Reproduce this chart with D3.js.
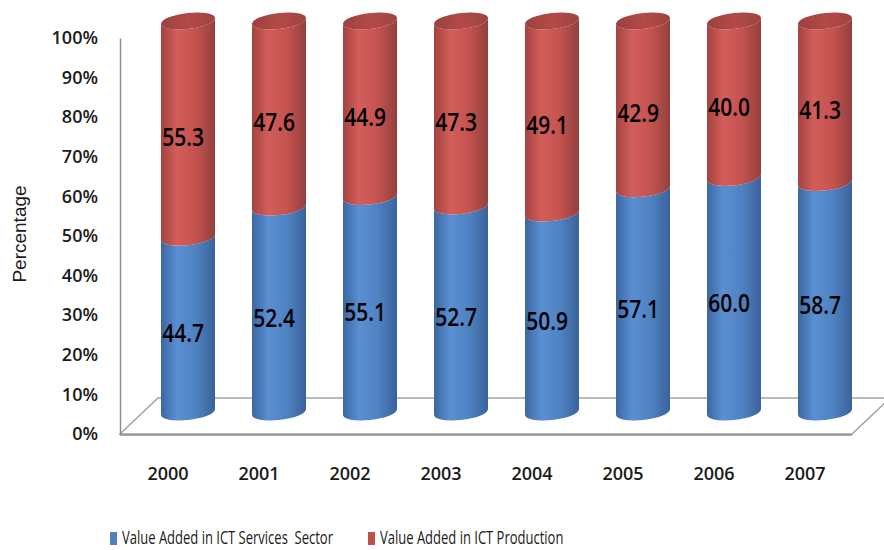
<!DOCTYPE html>
<html lang="en">
<head>
  <title>ICT value added</title>
  <meta charset="utf-8"/>
  <script src="https://d3js.org/d3.v7.min.js"></script>
  <style>
    body { margin: 0; background: #fff; }
    .tick text { font-family: "Open Sans", sans-serif; font-size: 18px; font-weight: 600; fill: #1a1a1a; }
    .year { font-family: "Open Sans", sans-serif; font-size: 18px; font-weight: 600; fill: #1a1a1a; }
    .val { font-family: "Open Sans", sans-serif; font-size: 21px; font-weight: 600; fill: #000; }
    .legend { font-family: "Open Sans", sans-serif; font-size: 13px; fill: #1a1a1a; white-space: pre; }
  </style>
</head>
<body>
<svg id="chart" width="884" height="550"></svg>
<script>
  // data
  const years = ["2000", "2001", "2002", "2003", "2004", "2005", "2006", "2007"];
  const services = [44.7, 52.4, 55.1, 52.7, 50.9, 57.1, 60.0, 58.7];
  const production = [55.3, 47.6, 44.9, 47.3, 49.1, 42.9, 40.0, 41.3];
  const yTicks = [0, 10, 20, 30, 40, 50, 60, 70, 80, 90, 100];
  const seriesNames = ["Value Added in ICT Services  Sector", "Value Added in ICT Production"];

  const svg = d3.select("#chart");

  // front plane scale (axis labels) and cylinder scale (3d depth)
  const yAxis = d3.scaleLinear().domain([0, 100]).range([434, 38]);
  const yCyl = d3.scaleLinear().domain([0, 100]).range([412, 21]);
  const x = d3.scaleBand().domain(years).range([142.5, 870.5]);

  const rx = 27, ry = 8;
  const depthX = 38, depthY = -36;

  // gradients
  const defs = svg.append("defs");
  function grad(id, stops) {
    const g = defs.append("linearGradient").attr("id", id)
            .attr("x1", 0).attr("x2", 1).attr("y1", 0).attr("y2", 0);
    stops.forEach(s => g.append("stop").attr("offset", s[0]).attr("stop-color", s[1]));
  }
  grad("gBlue", [[0, "#3b67a3"], [0.3, "#5a8fd2"], [0.65, "#4f82c1"], [1, "#3a629b"]]);
  grad("gRed", [[0, "#a4423f"], [0.3, "#d25e5a"], [0.65, "#c4524f"], [1, "#93403d"]]);
  grad("gTop", [[0, "#9c413e"], [0.5, "#b24a47"], [1, "#a04441"]]);

  // floor
  const x0 = 120, x1 = 852, yf = yAxis(0);
  svg.append("path")
          .attr("d", `M${x0},${yf} L${x1},${yf} L${x1 + depthX},${yf + depthY} L${x0 + depthX},${yf + depthY} Z`)
          .attr("fill", "#fff")
          .attr("stroke", "#a3a3a3")
          .attr("stroke-width", 1.5);
  svg.append("line")
          .attr("x1", x0).attr("x2", x1).attr("y1", yf + 1).attr("y2", yf + 1)
          .attr("stroke", "#8c8c8c").attr("stroke-width", 1.5);

  // y axis
  const axis = svg.append("g")
          .attr("transform", `translate(${x0},0)`)
          .call(d3.axisLeft(yAxis).tickValues(yTicks).tickSize(0).tickPadding(22)
                  .tickFormat(d => d + "%"));
  axis.select(".domain").attr("stroke", "#8c8c8c").attr("stroke-width", 1.5);

  svg.append("text")
          .attr("transform", "translate(26,234) rotate(-90)")
          .attr("text-anchor", "middle")
          .style("font-family", "'Liberation Sans', Arial, sans-serif")
          .style("font-size", "19px")
          .attr("fill", "#1a1a1a")
          .text("Percentage");

  // cylinders
  function bodyPath(cx, v0, v1) {
    const yb = yCyl(v0), yt = yCyl(v1);
    return `M${cx - rx},${yt} L${cx - rx},${yb} A${rx},${ry} 0 0 0 ${cx + rx},${yb} ` +
            `L${cx + rx},${yt} A${rx},${ry} 0 0 1 ${cx - rx},${yt} Z`;
  }

  years.forEach(function (yr, i) {
    const cx = x(yr) + x.bandwidth() / 2;
    const g = svg.append("g")
            .attr("transform", `translate(${cx},0) skewY(-6) translate(${-cx},0)`);
    const s = services[i], p = production[i];
    g.append("path").attr("d", bodyPath(cx, 0, s)).attr("fill", "url(#gBlue)");
    g.append("path").attr("d", bodyPath(cx, s, s + p)).attr("fill", "url(#gRed)");
    g.append("ellipse")
            .attr("cx", cx).attr("cy", yCyl(s + p))
            .attr("rx", rx).attr("ry", ry)
            .attr("fill", "url(#gTop)");

    // value labels
    [[0, s], [s, s + p]].forEach(function (seg) {
      const ym = (yCyl(seg[0]) + yCyl(seg[1])) / 2 + 8;
      svg.append("text")
              .attr("class", "val")
              .attr("text-anchor", "middle")
              .attr("dominant-baseline", "central")
              .attr("transform", `translate(${cx - 5},${ym}) scale(1,1.17)`)
              .text((seg[1] - seg[0]).toFixed(1));
    });

    svg.append("text")
            .attr("class", "year")
            .attr("x", cx - 20)
            .attr("y", 480)
            .attr("text-anchor", "middle")
            .text(yr);
  });

  // legend
  const legendX = [110, 368];
  const legendCol = ["#4f81bd", "#c0504d"];
  seriesNames.forEach(function (name, i) {
    svg.append("rect")
            .attr("x", legendX[i]).attr("y", 532)
            .attr("width", 7).attr("height", 13)
            .attr("fill", legendCol[i]);
    svg.append("text")
            .attr("class", "legend")
            .attr("transform", `translate(${legendX[i] + 12},544) scale(1,1.35)`)
            .text(name);
  });
</script>
</body>
</html>
